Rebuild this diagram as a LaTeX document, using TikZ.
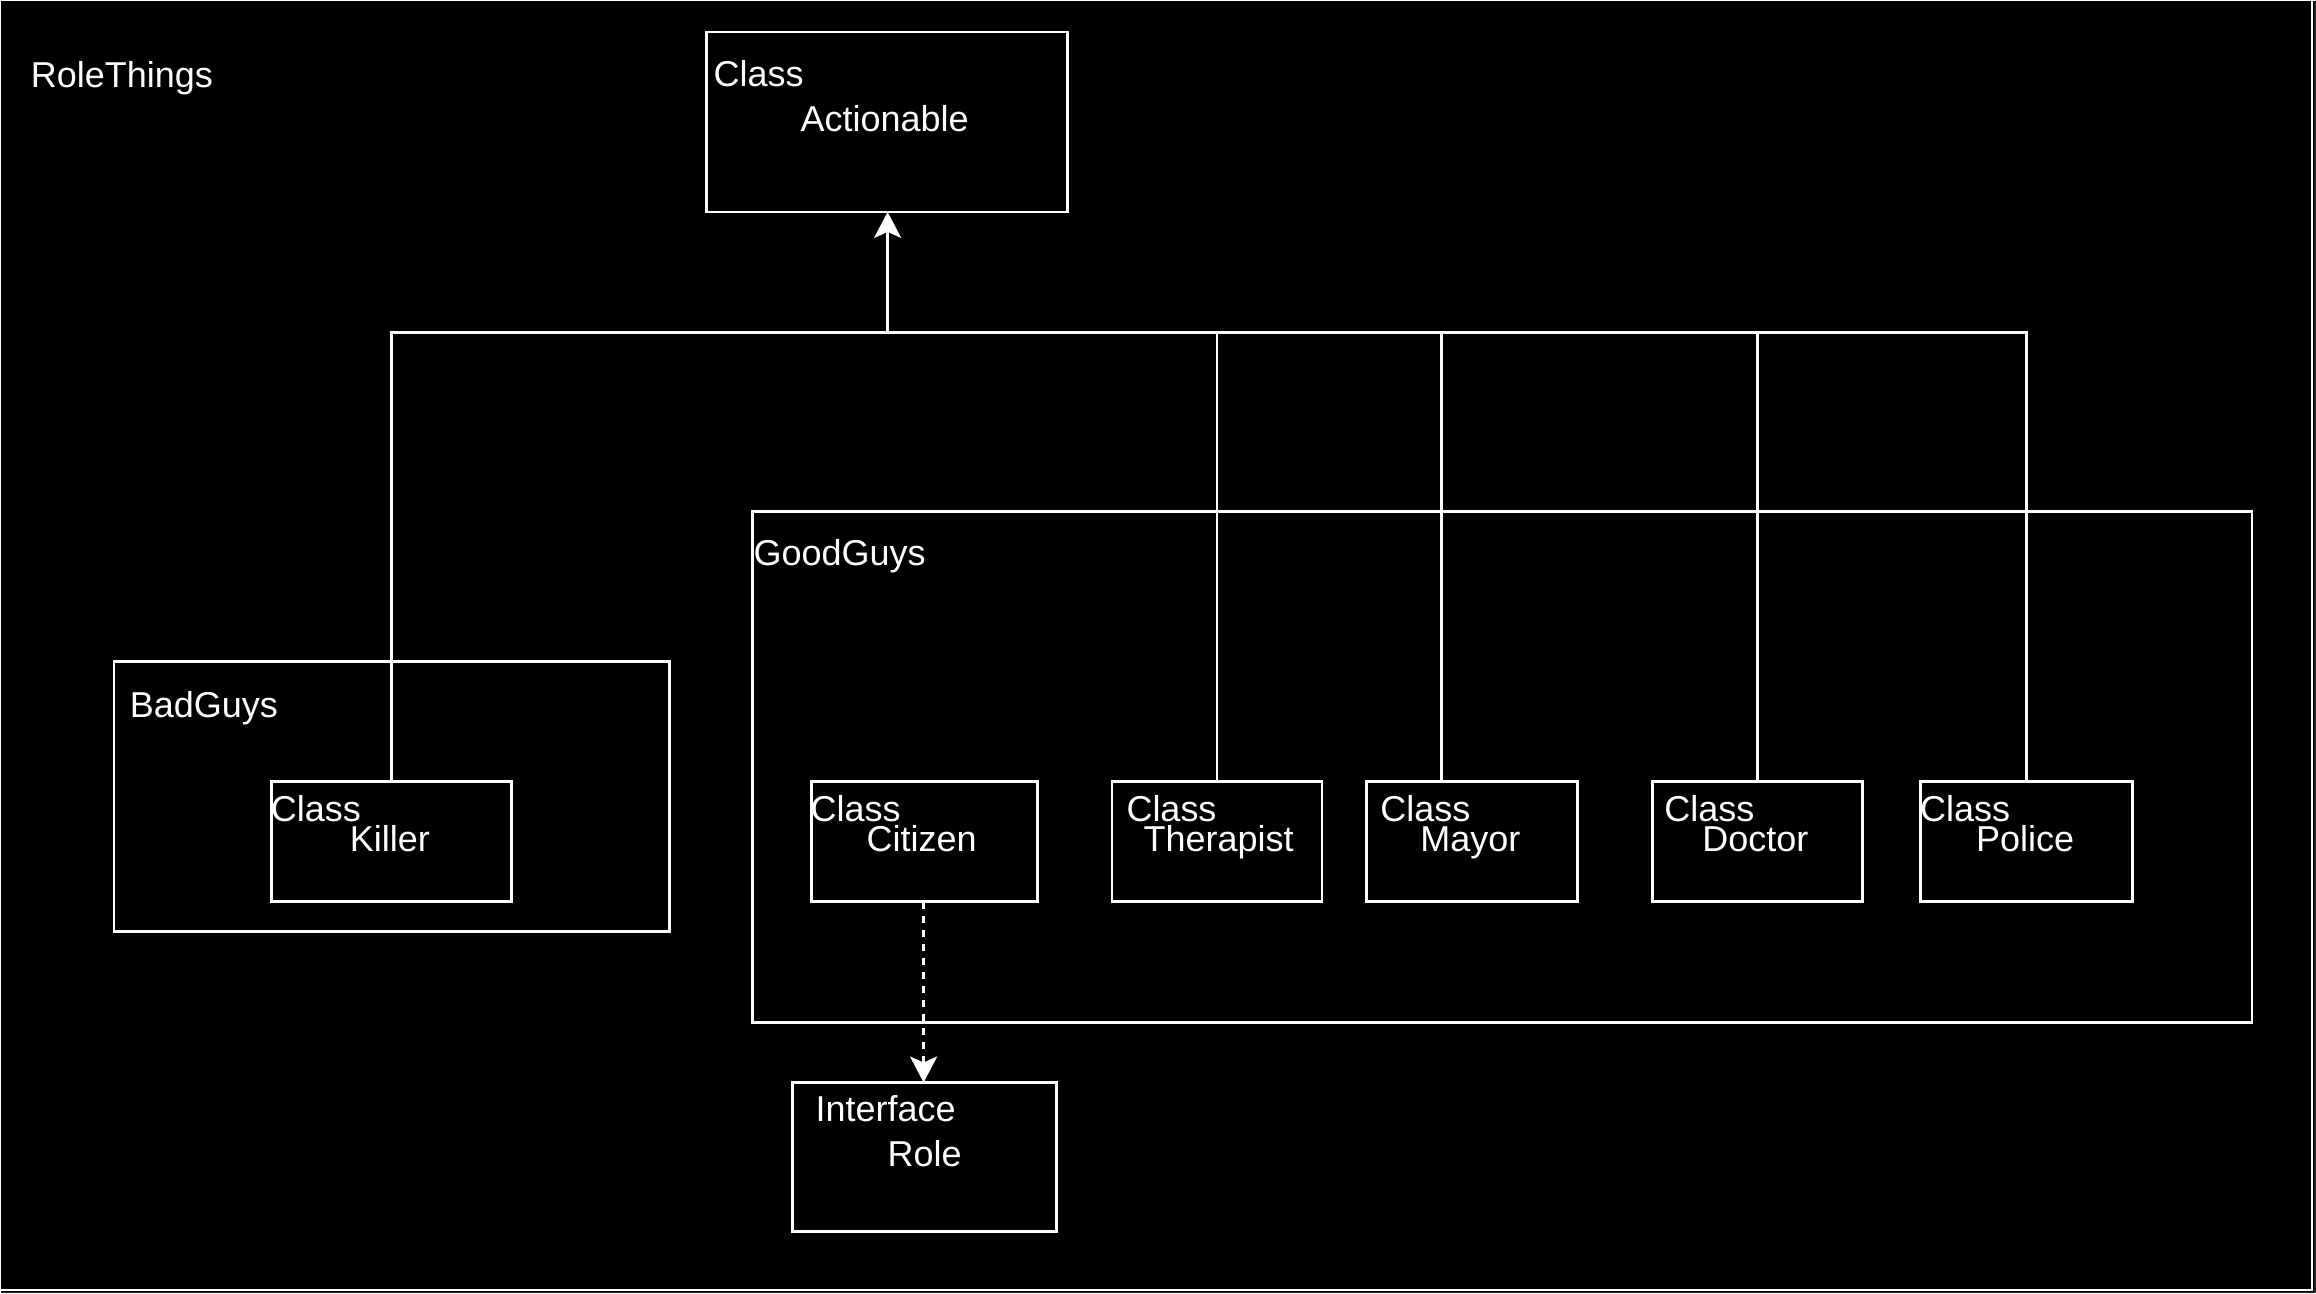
\documentclass[tikz,border=0pt]{standalone}
\usepackage{fontspec}
\setmainfont{Liberation Sans}
\usetikzlibrary{arrows.meta}
\begin{document}
\begin{tikzpicture}[x=1pt,y=-1pt,
  line width=2.8pt,
  every node/.style={text=white},
  umlbox/.style={draw=white, rectangle, inner sep=0pt, outer sep=0pt},
  lbl/.style={anchor=base west, inner sep=0pt, outer sep=0pt,
    font=\fontsize{36}{42}\selectfont},
  wire/.style={draw=white, line width=2.8pt},
  head/.style={-{Stealth[length=26pt, width=27pt, inset=6pt]}},
  dashwire/.style={draw=white, line width=2.8pt, dash pattern=on 7pt off 7pt}]

% canvas
\fill[black] (0,0) rectangle (2316,1293);
\fill[black!88] (2313.5,0) rectangle (2316,1293);
\fill[black!88] (0,1291.5) rectangle (2316,1293);
\draw[white, line width=2pt] (2312,0) -- (2312,1290) -- (0,1290);
\useasboundingbox (0,0) rectangle (2316,1293);

\node[lbl] (title) at (30,87) {RoleThings};

% packages
\node[umlbox, minimum width=556, minimum height=270] (badguys) at (391,796) {};
\node[lbl] (badlbl) at (129,717) {BadGuys};
\node[umlbox, minimum width=1500, minimum height=511] (goodguys) at (1502,766.5) {};
\node[lbl] (goodlbl) at (753,565) {GoodGuys};

% classes
\node[umlbox, minimum width=361, minimum height=180] (actionable) at (886.5,121) {};
\node[lbl] (actk) at (713,86) {Class};
\node[lbl] (actn) at (800,131) {Actionable};

\node[umlbox, minimum width=240, minimum height=120] (killer) at (391,841) {};
\node[lbl] (kilk) at (270,821) {Class};
\node[lbl] (kiln) at (349,851) {Killer};

\node[umlbox, minimum width=226, minimum height=120] (citizen) at (924,841) {};
\node[lbl] (citk) at (810,821) {Class};
\node[lbl] (citn) at (866,851) {Citizen};

\node[umlbox, minimum width=210, minimum height=120] (therapist) at (1216.5,841) {};
\node[lbl] (thek) at (1126,821) {Class};
\node[lbl] (then) at (1143,851) {Therapist};

\node[umlbox, minimum width=211, minimum height=120] (mayor) at (1471.5,841) {};
\node[lbl] (mayk) at (1380,821) {Class};
\node[lbl] (mayn) at (1420,851) {Mayor};

\node[umlbox, minimum width=210, minimum height=120] (doctor) at (1757,841) {};
\node[lbl] (dock) at (1664,821) {Class};
\node[lbl] (docn) at (1702,851) {Doctor};

\node[umlbox, minimum width=212, minimum height=120] (police) at (2026,841) {};
\node[lbl] (polk) at (1920,821) {Class};
\node[lbl] (poln) at (1976,851) {Police};

\node[umlbox, minimum width=264, minimum height=149] (role) at (924,1156.5) {};
\node[lbl] (rolk) at (815,1121) {Interface};
\node[lbl] (roln) at (887,1166) {Role};

% inheritance tree
\coordinate (bus) at (887,332);
\draw[wire, head] (bus) -- (actionable.south -| bus);
\draw[wire] (killer.north) |- (bus);
\draw[wire] (therapist.north) |- (bus);
\draw[wire] ([xshift=-30pt]mayor.north) |- (bus);
\draw[wire] (doctor.north) |- (bus);
\draw[wire] (police.north) |- (bus);

% realisation
\draw[dashwire, head] ([xshift=-1pt]citizen.south) -- ([xshift=-1pt]role.north);
\end{tikzpicture}
\end{document}
